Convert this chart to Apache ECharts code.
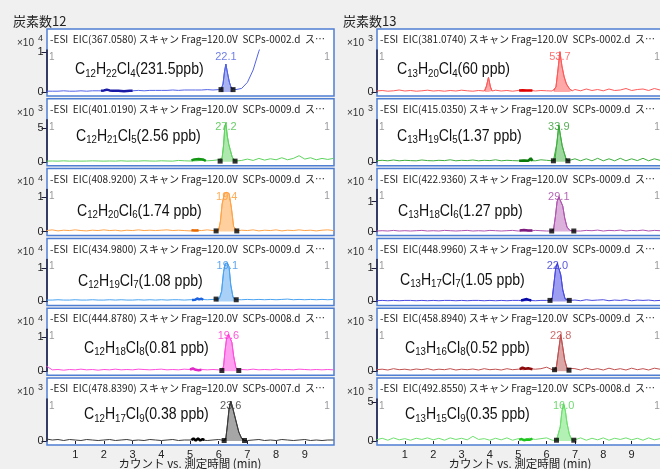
<!DOCTYPE html>
<html>
<head>
<meta charset="utf-8">
<script src="https://cdn.jsdelivr.net/npm/echarts@6/dist/echarts.min.js"></script>
<style>
html,body{margin:0;padding:0;background:#f0f0f0;}
#chart{width:660px;height:469px;}
</style>
</head>
<body>
<div id="chart"></div>
<script>
// ---- Extracted-ion chromatograms: chlorinated paraffins, carbon number 12 (left) and 13 (right) ----

// Panel order: left column top→bottom, then right column top→bottom
const eicMz = ['367.0580','401.0190','408.9200','434.9800','444.8780','478.8390',
               '381.0740','415.0350','422.9360','448.9960','458.8940','492.8550'];
const dataFiles = ['0002','0009','0009','0009','0008','0007',
                   '0002','0009','0009','0009','0009','0008'];
const carbonCounts = [12,12,12,12,12,12,13,13,13,13,13,13];
const hydrogenCounts = [22,21,20,19,18,17,20,19,18,17,16,15];
const chlorineCounts = [4,5,6,7,8,9,4,5,6,7,8,9];
const concentrations = ['231.5ppb','2.56 ppb','1.74 ppb','1.08 ppb','0.81 ppb','0.38 ppb',
                        '60 ppb','1.37 ppb','1.27 ppb','1.05 ppb','0.52 ppb','0.35 ppb'];
const peakTags = ['22.1','27.2','19.4','19.1','19.6','23.6','53.7','33.9','29.1','22.0','22.8','16.0'];
const countExponents = [4,3,4,4,4,3,3,3,4,4,3,3];
const yTickValues = [1,5,1,1,1,null,null,null,1,1,null,5];
const yMaxValues = [1.05,6.2,1.21,1.27,1.24,4.2,4.2,4.2,1.4,1.27,4.2,5.38];
const integrated = [true,true,true,true,true,true,false,true,true,true,true,true];
const xTickValues = [1,2,3,4,5,6,7,8,9];
const columnHeaders = ['炭素数12','炭素数13'];
const xAxisTitle = 'カウント vs. 測定時間 (min)';

// Baseline sampling times (min)
const baseTimes = [0,0.2,0.4,0.6,0.8,1,1.2,1.4,1.6,1.8,2,2.2,2.4,2.6,2.8,3,3.2,3.4,3.6,3.8,
                   4,4.2,4.4,4.6,4.8,5,5.2,5.4,5.6,5.8,6,6.2,6.4,6.6,6.8,7,7.2,7.4,7.6,7.8,
                   8,8.2,8.4,8.6,8.8,9,9.2,9.4,9.6,9.8,10];

// Baseline intensities (axis units), one per baseTimes entry
const baseL1 = [0.02,0.02,0.02,0.03,0.02,0.02,0.03,0.02,0.03,0.03,
                0.03,0.04,0.03,0.03,0.03,0.03,0.04,0.03,0.04,0.04,
                0.04,0.04,0.05,0.04,0.05,0.05,0.05,0.05,0.06,0.05,
                0.06,0.06,0.06,0.06,0.09,0.24,0.55,1.02,1.4,1.75,
                2.0,2.2,2.4,2.5,2.6,2.7,2.75,2.8,2.85,2.9,2.9];
const baseL2 = [0.10,0.12,0.10,0.14,0.10,0.12,0.10,0.11,0.14,0.12,
                0.10,0.12,0.10,0.15,0.10,0.12,0.11,0.15,0.12,0.10,
                0.15,0.12,0.10,0.20,0.15,0.12,0.15,0.20,0.15,0.20,
                0.30,0.10,0.10,0.30,0.20,0.40,0.20,0.50,0.25,0.45,
                0.30,0.60,0.30,0.50,0.90,0.40,0.60,0.30,0.50,0.35,0.50];
const baseL3 = [0.03,0.05,0.02,0.04,0.03,0.05,0.03,0.02,0.04,0.03,
                0.05,0.03,0.04,0.02,0.04,0.03,0.05,0.03,0.04,0.03,
                0.04,0.05,0.03,0.04,0.03,0.02,0.04,0.03,0.05,0.03,
                0.03,0.03,0.03,0.02,0.04,0.03,0.05,0.02,0.04,0.03,
                0.05,0.02,0.04,0.03,0.05,0.03,0.04,0.02,0.04,0.05,0.03];
const baseL4 = [0.04,0.04,0.05,0.04,0.04,0.05,0.04,0.04,0.05,0.04,
                0.04,0.05,0.04,0.05,0.04,0.04,0.05,0.04,0.05,0.04,
                0.05,0.04,0.05,0.05,0.04,0.05,0.05,0.06,0.05,0.06,
                0.07,0.07,0.06,0.05,0.05,0.06,0.05,0.06,0.05,0.06,
                0.05,0.06,0.07,0.05,0.06,0.05,0.06,0.05,0.06,0.05,0.06];
const baseL5 = [0.15,0.04,0.05,0.03,0.05,0.04,0.06,0.04,0.05,0.03,
                0.05,0.04,0.06,0.04,0.05,0.04,0.06,0.05,0.04,0.05,
                0.06,0.04,0.05,0.04,0.06,0.05,0.04,0.05,0.04,0.05,
                0.04,0.02,0.02,0.04,0.05,0.04,0.06,0.04,0.05,0.04,
                0.06,0.04,0.05,0.04,0.06,0.05,0.04,0.05,0.04,0.05,0.04];
const baseL6 = [0.20,0.10,0.15,0.05,0.15,0.10,0.05,0.15,0.10,0.05,
                0.10,0.15,0.05,0.10,0.15,0.05,0.10,0.05,0.15,0.10,
                0.05,0.10,0.15,0.05,0.10,0.10,0.15,0.10,0.05,0.10,
                0.15,0.05,0.05,0.05,0.10,0.05,0.10,0.15,0.05,0.10,
                0.05,0.15,0.10,0.05,0.10,0.15,0.05,0.10,0.05,0.10,0.10];
const baseR1 = [0.10,0.15,0.08,0.12,0.20,0.10,0.15,0.08,0.12,0.18,
                0.10,0.14,0.08,0.15,0.10,0.18,0.12,0.08,0.15,0.10,
                0.12,0.18,0.10,0.15,0.08,0.15,0.12,0.18,0.10,0.15,
                0.12,0.10,0.10,0.10,0.15,0.25,0.12,0.30,0.15,0.25,
                0.12,0.30,0.15,0.20,0.35,0.15,0.25,0.30,0.15,0.35,0.20];
const baseR2 = [0.10,0.15,0.10,0.18,0.10,0.15,0.12,0.10,0.18,0.12,
                0.10,0.15,0.12,0.20,0.10,0.15,0.12,0.18,0.10,0.15,
                0.12,0.20,0.10,0.15,0.12,0.10,0.15,0.12,0.10,0.20,
                0.15,0.10,0.10,0.20,0.10,0.30,0.10,0.30,0.10,0.35,
                0.10,0.30,0.10,0.35,0.10,0.30,0.12,0.35,0.10,0.30,0.15];
const baseR3 = [0.02,0.03,0.02,0.04,0.02,0.03,0.02,0.03,0.04,0.02,
                0.03,0.02,0.04,0.03,0.02,0.03,0.04,0.02,0.03,0.02,
                0.04,0.03,0.02,0.03,0.04,0.02,0.03,0.02,0.04,0.03,
                0.02,0.02,0.02,0.02,0.03,0.05,0.02,0.04,0.03,0.05,
                0.02,0.04,0.03,0.05,0.02,0.04,0.03,0.05,0.02,0.04,0.03];
const baseR4 = [0.02,0.03,0.02,0.03,0.02,0.03,0.03,0.02,0.03,0.02,
                0.03,0.02,0.03,0.03,0.02,0.03,0.02,0.03,0.03,0.02,
                0.03,0.02,0.03,0.02,0.03,0.03,0.02,0.03,0.02,0.03,
                0.03,0.03,0.03,0.03,0.02,0.04,0.02,0.05,0.03,0.04,
                0.05,0.02,0.04,0.03,0.05,0.02,0.04,0.03,0.04,0.02,0.03];
const baseR5 = [0.15,0.20,0.12,0.25,0.15,0.20,0.12,0.22,0.15,0.25,
                0.12,0.20,0.15,0.25,0.12,0.20,0.15,0.22,0.12,0.25,
                0.15,0.20,0.12,0.25,0.15,0.20,0.15,0.25,0.20,0.25,
                0.40,0.15,0.15,0.20,0.15,0.25,0.12,0.30,0.15,0.25,
                0.12,0.30,0.15,0.25,0.12,0.30,0.15,0.25,0.12,0.30,0.20];
const baseR6 = [0.15,0.35,0.10,0.40,0.15,0.30,0.10,0.35,0.20,0.40,
                0.15,0.35,0.10,0.40,0.20,0.35,0.15,0.60,0.20,0.30,
                0.10,0.35,0.15,0.40,0.10,0.30,0.15,0.35,0.20,0.30,
                0.40,0.10,0.10,0.20,0.35,0.15,0.40,0.10,0.35,0.15,
                0.40,0.10,0.35,0.20,0.40,0.15,0.35,0.10,0.40,0.15,0.30];

// Integrated peaks: retention times (min) and intensities
const peakTimesL1 = [6.08,6.15,6.2,6.25,6.3,6.37,6.44,6.5];
const peakValsL1  = [0.06,0.2,0.5,0.7,0.5,0.25,0.1,0.06];
const peakTimesL2 = [6.05,6.12,6.17,6.21,6.25,6.3,6.35,6.4,6.47,6.57];
const peakValsL2  = [0.1,0.6,2.5,5.0,5.7,3.8,2.6,1.8,0.7,0.1];
const peakTimesL3 = [5.91,6.0,6.06,6.12,6.2,6.28,6.36,6.44,6.52,6.63];
const peakValsL3  = [0.02,0.05,0.3,0.8,1.1,1.13,1.1,0.7,0.15,0.02];
const peakTimesL4 = [5.91,6.02,6.1,6.17,6.23,6.3,6.36,6.42,6.5,6.61];
const peakValsL4  = [0.07,0.08,0.3,0.9,1.15,1.16,1.05,0.5,0.12,0.05];
const peakTimesL5 = [6.11,6.17,6.22,6.28,6.34,6.4,6.46,6.52,6.6,6.7];
const peakValsL5  = [0.02,0.15,0.6,1.0,1.09,1.05,0.85,0.45,0.1,0.02];
const peakTimesL6 = [6.19,6.25,6.3,6.36,6.42,6.48,6.55,6.62,6.7,6.8,6.9];
const peakValsL6  = [0.05,0.3,1.5,3.2,4.0,3.4,2.6,1.8,0.9,0.25,0.05];
const peakTimesR1 = [6.25,6.33,6.4,6.47,6.54,6.62,6.7,6.8,6.9];
const peakValsR1  = [0.1,0.5,2.2,4.03,2.6,1.5,0.8,0.35,0.12];
const minorPeakTimesR1 = [3.82,3.88,3.95,4.02,4.08];
const minorPeakValsR1  = [0.1,0.6,1.47,0.5,0.1];
const peakTimesR2 = [6.24,6.3,6.36,6.43,6.49,6.55,6.62,6.68,6.75];
const peakValsR2  = [0.1,0.3,1.8,3.68,2.6,1.6,0.9,0.35,0.1];
const peakTimesR3 = [6.18,6.25,6.31,6.37,6.43,6.5,6.57,6.64,6.72,6.82,6.96];
const peakValsR3  = [0.02,0.1,0.5,1.0,1.16,1.1,0.85,0.45,0.15,0.04,0.02];
const peakTimesR4 = [6.12,6.2,6.26,6.32,6.38,6.44,6.5,6.57,6.65,6.8];
const peakValsR4  = [0.03,0.1,0.55,1.0,1.15,1.12,0.8,0.35,0.08,0.03];
const peakTimesR5 = [6.28,6.35,6.42,6.5,6.57,6.64,6.72,6.79];
const peakValsR5  = [0.15,0.5,2.0,3.67,2.4,1.1,0.3,0.1];
const peakTimesR6 = [6.35,6.42,6.48,6.54,6.6,6.66,6.72,6.8,6.88,6.96];
const peakValsR6  = [0.1,0.3,1.8,3.8,4.83,3.9,2.3,0.9,0.2,0.1];

// Overlaid short trace segments (drawn heavier)
const segTimesL1 = [1.9,2.0,2.1,2.2,2.3,2.5,2.7,2.9,3.0];
const segValsL1  = [0.03,0.04,0.06,0.04,0.03,0.03,0.02,0.03,0.03];
const segTimesL2 = [5.05,5.15,5.2,5.3,5.35,5.45,5.55];
const segValsL2  = [0.2,0.35,0.15,0.4,0.2,0.35,0.15];
const segTimesL3 = [5.05,5.1,5.15,5.2,5.25,5.3];
const segValsL3  = [0.04,0.06,0.03,0.05,0.03,0.04];
const segTimesL4 = [5.07,5.12,5.18,5.25,5.32,5.4,5.46];
const segValsL4  = [0.04,0.08,0.05,0.09,0.06,0.08,0.05];
const segTimesL5 = [5.0,5.1,5.2,5.3,5.4];
const segValsL5  = [0.05,0.08,0.04,0.03,0.04];
const segTimesL6 = [5.05,5.12,5.2,5.28,5.36,5.44,5.5];
const segValsL6  = [0.1,0.25,0.05,0.25,0.05,0.2,0.1];
const segTimesR1 = [5.03,5.15,5.3,5.4,5.5];
const segValsR1  = [0.15,0.18,0.14,0.16,0.15];
const segTimesR2 = [5.03,5.2,5.35,5.44,5.5];
const segValsR2  = [0.1,0.12,0.1,0.35,0.1];
const segTimesR3 = [5.05,5.2,5.35,5.5];
const segValsR3  = [0.04,0.05,0.04,0.04];
const segTimesR4 = [5.1,5.2,5.3,5.4,5.46];
const segValsR4  = [0.03,0.05,0.07,0.04,0.03];
const segTimesR5 = [5.05,5.15,5.25,5.35,5.5];
const segValsR5  = [0.2,0.35,0.25,0.3,0.2];
const segTimesR6 = [5.03,5.12,5.2,5.3,5.4,5.5];
const segValsR6  = [0.15,0.25,0.1,0.2,0.15,0.3];

// ---- Styling ----
const lineColors  = ['#5263e6','#5fd35f','#ffa347','#4aa3f2','#ff4fdc','#3a3a3a',
                     '#ff5a5a','#3fae3f','#b055b0','#4a4ae0','#c05252','#6fe06f'];
const fillColors  = ['#aab3f2','#aee8ae','#ffcf9e','#a9d1f7','#ff9ff0','#a6a6a6',
                     '#ffa8a8','#9fd89f','#dbb0db','#9d9df2','#dba6a6','#b3f0b3'];
const segColors   = ['#1a1aa6','#139613','#e86a00','#1e63e0','#e02ac8','#000000',
                     '#e00000','#0a7a0a','#7d1a7d','#0a0aa8','#8c0a0a','#1fc41f'];
const tagColors   = ['#4a5ce0','#44c044','#ff9a30','#3a90e8','#ff30d0','#303030',
                     '#ff5050','#309a30','#a040a0','#3030d0','#c04848','#50d050'];
const borderColor = '#4f7fd2';
const axisColor = '#1c1c3c';
const latin = '"Liberation Sans", Arial, sans-serif';
const cjk = '"Noto Sans CJK JP", "Noto Sans", sans-serif';

const baselines = [baseL1,baseL2,baseL3,baseL4,baseL5,baseL6,baseR1,baseR2,baseR3,baseR4,baseR5,baseR6];
const peakSets = [
  [[peakTimesL1,peakValsL1]],[[peakTimesL2,peakValsL2]],[[peakTimesL3,peakValsL3]],
  [[peakTimesL4,peakValsL4]],[[peakTimesL5,peakValsL5]],[[peakTimesL6,peakValsL6]],
  [[peakTimesR1,peakValsR1],[minorPeakTimesR1,minorPeakValsR1]],[[peakTimesR2,peakValsR2]],
  [[peakTimesR3,peakValsR3]],[[peakTimesR4,peakValsR4]],[[peakTimesR5,peakValsR5]],[[peakTimesR6,peakValsR6]]
];
const segments = [[segTimesL1,segValsL1],[segTimesL2,segValsL2],[segTimesL3,segValsL3],
  [segTimesL4,segValsL4],[segTimesL5,segValsL5],[segTimesL6,segValsL6],
  [segTimesR1,segValsR1],[segTimesR2,segValsR2],[segTimesR3,segValsR3],
  [segTimesR4,segValsR4],[segTimesR5,segValsR5],[segTimesR6,segValsR6]];

// ---- Layout ----
const colLeft = [47, 377];
const plotWidth = 287;
const rowPitch = 69.8;
const firstRowTop = 29;
const panelHeight = 67;
const titleWidth = 275;
const formulaScale = 0.88;
const formulaOffsets = [[28,41],[29,38],[30,43],[31,43],[37,40],[37,37],
                        [20,41],[20,38],[21,43],[23,42],[28,40],[28,37]];

const pairs = (ts, vs) => ts.map((t, i) => [t, vs[i]]);

// Full trace: baseline samples outside the integrated windows plus the peak samples
function buildTrace(base, peaks) {
  const pts = [];
  baseTimes.forEach((t, i) => {
    const inside = peaks.some(p => t >= p[0][0] && t <= p[0][p[0].length - 1]);
    if (!inside) pts.push([t, base[i]]);
  });
  peaks.forEach(p => p[0].forEach((t, i) => pts.push([t, p[1][i]])));
  pts.sort((a, b) => a[0] - b[0]);
  return pts;
}

const measureCtx = document.createElement('canvas').getContext('2d');
function textWidth(str, font) { measureCtx.font = font; return measureCtx.measureText(str).width; }

const grids = [], xAxes = [], yAxes = [], series = [], graphics = [];

for (let g = 0; g < 12; g++) {
  const col = g < 6 ? 0 : 1;
  const row = g % 6;
  const top = firstRowTop + row * rowPitch;
  const left = colLeft[col];
  const yMax = yMaxValues[g];
  const ticks = yTickValues[g] === null ? [0] : [0, yTickValues[g]];

  grids.push({ left: left - 0.5, top: top + 21, width: plotWidth, height: 42 });

  const bottomRow = row === 5;
  xAxes.push({
    type: 'value', gridIndex: g, min: 0, max: 10, show: bottomRow, offset: 5,
    axisLine: { show: false },
    axisTick: { show: true, length: 3, customValues: xTickValues, lineStyle: { color: axisColor } },
    axisLabel: { customValues: xTickValues, fontSize: 11, color: '#222', margin: 3, fontFamily: latin },
    splitLine: { show: false }
  });
  yAxes.push({
    type: 'value', gridIndex: g, min: 0, max: yMax,
    axisLine: { show: true, lineStyle: { color: axisColor, width: 1.5 } },
    axisTick: { show: true, length: 5, customValues: ticks, lineStyle: { color: axisColor } },
    axisLabel: { customValues: ticks, fontSize: 11, color: '#222', margin: 3, fontFamily: latin },
    splitLine: { show: false }
  });

  const peaks = peakSets[g];
  peaks.forEach(p => {
    series.push({
      type: 'line', xAxisIndex: g, yAxisIndex: g, data: pairs(p[0], p[1]),
      symbol: 'none', lineStyle: { width: 1, color: lineColors[g] },
      areaStyle: { color: fillColors[g], opacity: 1 }, z: 2, silent: true
    });
  });
  series.push({
    type: 'line', xAxisIndex: g, yAxisIndex: g, data: buildTrace(baselines[g], peaks),
    symbol: 'none', lineStyle: { width: 1, color: lineColors[g] }, z: 3, silent: true
  });
  series.push({
    type: 'line', xAxisIndex: g, yAxisIndex: g, data: pairs(segments[g][0], segments[g][1]),
    symbol: 'none', lineStyle: { width: 2.5, color: segColors[g] }, z: 4, silent: true
  });
  const main = peaks[0];
  if (integrated[g]) {
    const n = main[0].length - 1;
    series.push({
      type: 'scatter', xAxisIndex: g, yAxisIndex: g,
      data: [[main[0][0], main[1][0]], [main[0][n], main[1][n]]],
      symbol: 'rect', symbolSize: 5, itemStyle: { color: '#000' }, z: 5, silent: true
    });
  }
  let apex = 0;
  main[1].forEach((v, i) => { if (v > main[1][apex]) apex = i; });
  series.push({
    type: 'scatter', xAxisIndex: g, yAxisIndex: g, data: [[main[0][apex], yMax]],
    symbolSize: 1, itemStyle: { color: 'rgba(0,0,0,0)' }, z: 6, silent: true,
    label: { show: true, position: 'bottom', distance: 1, formatter: peakTags[g],
             color: tagColors[g], fontSize: 11, fontFamily: latin }
  });

  // Panel frame
  graphics.push({ type: 'rect', z: -5, silent: true,
    shape: { x: left, y: top, width: plotWidth + (col ? 10 : 0), height: panelHeight },
    style: { fill: '#ffffff', stroke: borderColor, lineWidth: 1.5 } });

  // Trace title
  const title = `-ESI  EIC(${eicMz[g]}) スキャン Frag=120.0V  SCPs-${dataFiles[g]}.d  ス…`;
  const titleFont = `10px ${cjk}`;
  graphics.push({ type: 'text', z: 50, silent: true, x: left + 3, y: top + 10.5,
    scaleX: titleWidth / textWidth(title, titleFont),
    style: { text: title, font: titleFont, fill: '#222', align: 'left', verticalAlign: 'middle' } });

  // Intensity multiplier
  graphics.push({ type: 'text', z: 50, silent: true, x: left - 30, y: top + 14,
    style: { text: '×10', font: `10px ${latin}`, fill: '#333', align: 'left', verticalAlign: 'middle' } });
  graphics.push({ type: 'text', z: 50, silent: true, x: left - 9, y: top + 10,
    style: { text: String(countExponents[g]), font: `9px ${latin}`, fill: '#333', align: 'left', verticalAlign: 'middle' } });

  // Scan index markers at both ends of the plot
  graphics.push({ type: 'text', z: 50, silent: true, x: left + 2, y: top + 28,
    style: { text: '1', font: `10px ${latin}`, fill: '#999', align: 'left', verticalAlign: 'middle' } });
  graphics.push({ type: 'text', z: 50, silent: true, x: left + 280, y: top + 28,
    style: { text: '1', font: `10px ${latin}`, fill: '#999', align: 'center', verticalAlign: 'middle' } });

  // Molecular formula and concentration
  const formula = `{m|C}{s|${carbonCounts[g]}}{m|H}{s|${hydrogenCounts[g]}}{m|Cl}{s|${chlorineCounts[g]}}{m|(${concentrations[g]})}`;
  graphics.push({ type: 'text', z: 50, silent: true,
    x: left + formulaOffsets[g][0], y: top + formulaOffsets[g][1], scaleX: formulaScale,
    style: { text: formula, fill: '#111', align: 'left', verticalAlign: 'middle',
      rich: {
        m: { fontSize: 16, fontFamily: latin, fill: '#111', lineHeight: 18 },
        s: { fontSize: 11, fontFamily: latin, fill: '#111', lineHeight: 8, verticalAlign: 'bottom' }
      } } });
}

// Column headers and time-axis titles
columnHeaders.forEach((h, c) => {
  graphics.push({ type: 'text', z: 50, silent: true, x: colLeft[c] - 34, y: 21,
    style: { text: h, font: `13px ${cjk}`, fill: '#222', align: 'left', verticalAlign: 'middle' } });
  graphics.push({ type: 'text', z: 50, silent: true, x: colLeft[c] + 143, y: 464,
    style: { text: xAxisTitle, font: `11.5px ${cjk}`, fill: '#222', align: 'center', verticalAlign: 'middle' } });
});

const chart = echarts.init(document.getElementById('chart'), null, { renderer: 'canvas' });
chart.setOption({
  animation: false,
  backgroundColor: '#f0f0f0',
  grid: grids,
  xAxis: xAxes,
  yAxis: yAxes,
  series: series,
  graphic: { elements: graphics }
});
</script>
</body>
</html>
